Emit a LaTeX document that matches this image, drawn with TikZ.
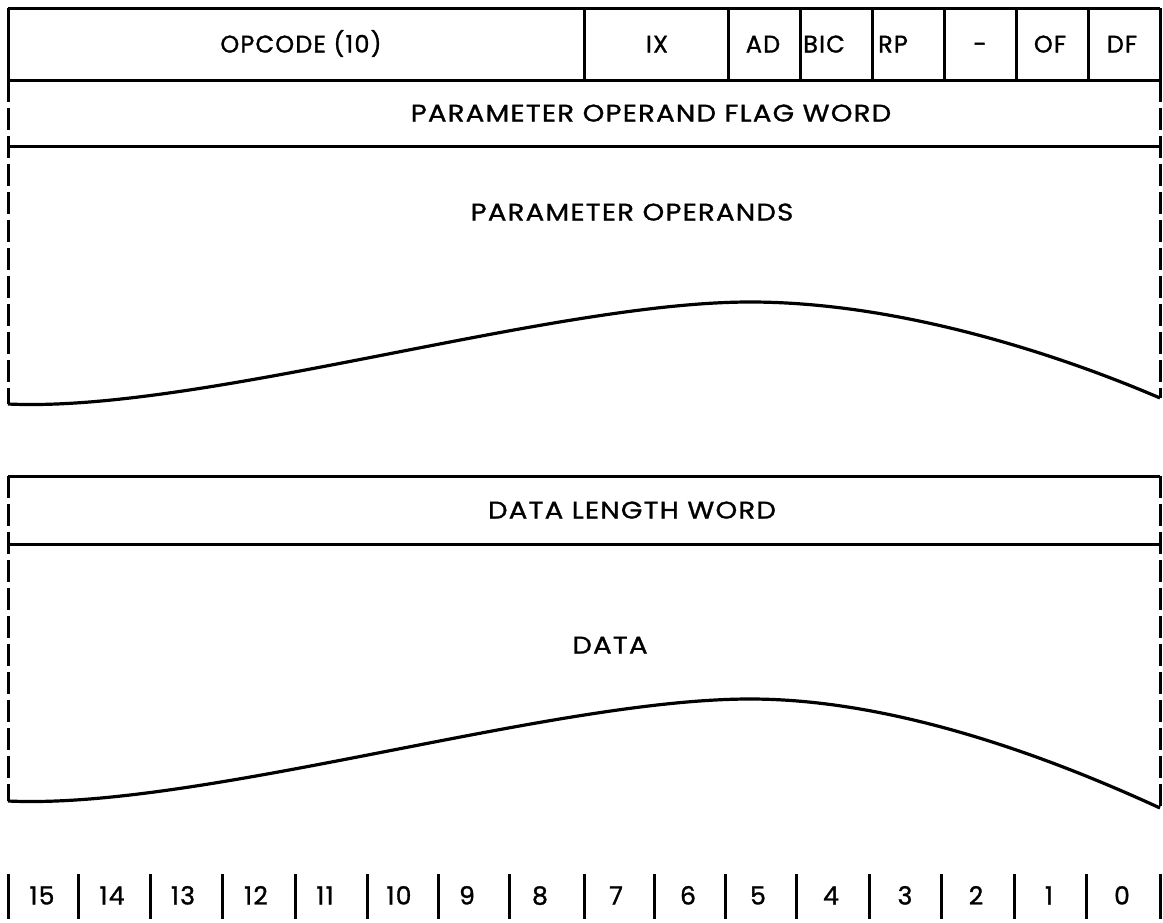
\documentclass[tikz,border=0pt]{standalone}
\usepackage{fontspec}
\setmainfont{Poppins}[LetterSpace=5,FakeBold=1.2]
\newfontfamily\widefont{Poppins}[LetterSpace=5,FakeStretch=1.15,FakeBold=1.2]
\begin{document}
\begin{tikzpicture}[x=1pt,y=-1pt,
  ln/.style={line width=3pt},
  dashedge/.style={line width=3pt, dash pattern=on 22pt off 6pt},
  curve/.style={line width=3.2pt, line join=round},
  lbl/.style={font=\fontsize{24}{24}\selectfont, inner sep=0pt, text height=17pt, text depth=0pt, anchor=center},
  widelbl/.style={lbl, font=\widefont\fontsize{24}{24}\selectfont},
  num/.style={lbl, font=\fontsize{25}{25}\selectfont}]
\useasboundingbox[fill=white] (0,0) rectangle (1163,922);

% ---------- top frame ----------
\coordinate (tA) at (8,8);   \coordinate (tB) at (1160,8);
\coordinate (tC) at (8,80);  \coordinate (tD) at (1160,80);
\coordinate (tE) at (8,146); \coordinate (tF) at (1160,146);
\coordinate (tL) at (8,404); \coordinate (tR) at (1160,398);
\coordinate (tP) at (750,302);
\draw[ln] (tA) -- (tB);
\draw[ln] (tC) -- (tD);
\draw[ln] (tE) -- (tF);
\draw[ln] (tA) -- (tC);
\draw[ln] (tB) -- (tD);
\foreach \x in {584,728,800,872,944,1016,1088}
  \draw[ln] (\x,8) -- (\x,80);
\draw[dashedge] (tC) -- (tL);
\draw[dashedge] (tD) -- (tR);
\draw[curve] (tL) .. controls (200,413) and (550,302) .. (tP)
                  .. controls (900,302) and (1060,355) .. (tR);

\node[lbl] (opc) at (301,44) {OPCODE (10)};
\node[lbl] (ix)  at (657,44) {IX};
\node[lbl] (ad)  at (763,44) {AD};
\node[lbl] (bic) at (824,44) {BIC};
\node[lbl] (rp)  at (893,44) {RP};
\node[lbl] (dsh) at (980,44) {-};
\node[lbl] (of)  at (1050,44) {OF};
\node[lbl] (df)  at (1122,44) {DF};
\node[widelbl] (pofw) at (651,113) {PARAMETER OPERAND FLAG WORD};
\node[widelbl] (pop)  at (632,212) {PARAMETER OPERANDS};

% ---------- data frame ----------
\coordinate (dA) at (8,476);   \coordinate (dB) at (1160,476);
\coordinate (dC) at (8,544);   \coordinate (dD) at (1160,544);
\coordinate (dL) at (8,801);   \coordinate (dR) at (1160,808);
\coordinate (dP) at (750,699);
\draw[ln] (dA) -- (dB);
\draw[ln] (dC) -- (dD);
\draw[dashedge] (dA) -- (dL);
\draw[dashedge] (dB) -- (dR);
\draw[curve] (dL) .. controls (200,810) and (550,699) .. (dP)
                  .. controls (900,699) and (1060,762) .. (dR);

\node[widelbl] (dlw)  at (632,510) {DATA LENGTH WORD};
\node[widelbl] (data) at (610,645) {DATA};

% ---------- bit numbers ----------
\foreach \x in {8,78,150,222,295,367,438,509,584,654,725,796,869,941,1014,1086,1160}
  \draw[ln] (\x,874) -- (\x,919);
\foreach \n/\x in {15/42,14/112,13/183,12/256,11/325,10/399,9/467,8/540,7/616,6/688,5/758,4/831,3/905,2/976,1/1049,0/1122}
  \node[num] (b\n) at (\x,896) {\n};
\end{tikzpicture}
\end{document}
